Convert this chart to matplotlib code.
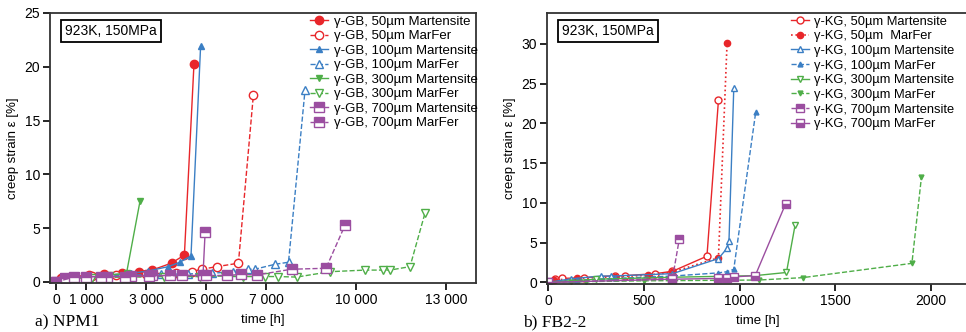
import numpy as np
import matplotlib
matplotlib.use('Agg')
import matplotlib.pyplot as plt

plt.rcParams['font.family'] = ['Liberation Sans', 'DejaVu Sans']
plt.rcParams['font.size'] = 9

RED = '#e8262a'
BLUE = '#3b7fc4'
GREEN = '#4fae48'
PURPLE = '#9b4ea0'

# ---- a) NPM1 (gamma-GB) ----
gb50_mart_t = [0, 150, 500, 1100, 1600, 2200, 2750, 3200, 3850, 4280, 4600]
gb50_mart_e = [0, 0.35, 0.5, 0.6, 0.7, 0.85, 0.95, 1.1, 1.75, 2.5, 20.3]
gb50_marf_t = [0, 200, 600, 1200, 2000, 3000, 4000, 4520, 4860, 5360, 6080, 6580]
gb50_marf_e = [0, 0.4, 0.5, 0.55, 0.65, 0.75, 0.85, 0.96, 1.18, 1.42, 1.74, 17.4]
gb100_mart_t = [0, 500, 1500, 2500, 3080, 3740, 4130, 4500, 4820]
gb100_mart_e = [0, 0.4, 0.6, 0.8, 1.02, 1.42, 1.83, 2.42, 21.9]
gb100_marf_t = [0, 500, 1500, 2500, 3500, 4400, 5190, 5910, 6410, 6630, 7300, 7750, 8300]
gb100_marf_e = [0, 0.4, 0.55, 0.65, 0.7, 0.75, 0.8, 0.96, 1.18, 1.18, 1.64, 1.83, 17.8]
gb300_mart_t = [0, 300, 1000, 1800, 2350, 2800]
gb300_mart_e = [0, 0.3, 0.5, 0.65, 0.8, 7.5]
gb300_marf_t = [0, 400, 1200, 2400, 3600, 4800, 5630, 6230, 6970, 7410, 8020, 9130,
                10300, 10910, 11130, 11800, 12300]
gb300_marf_e = [0, 0.3, 0.4, 0.45, 0.5, 0.5, 0.55, 0.5, 0.5, 0.5, 0.45, 0.95,
                1.1, 1.1, 1.1, 1.42, 6.4]
gb700_mart_t = [0, 300, 1000, 1700, 2500, 3200, 3800, 4900, 4970]
gb700_mart_e = [0, 0.4, 0.5, 0.5, 0.55, 0.6, 0.6, 0.6, 4.6]
gb700_marf_t = [0, 600, 1500, 2300, 3100, 4200, 5000, 5700, 6150, 6700, 7850, 9000, 9630]
gb700_marf_e = [0, 0.45, 0.5, 0.5, 0.55, 0.6, 0.6, 0.6, 0.7, 0.65, 1.18, 1.27, 5.25]
xticks_a = [0, 1000, 3000, 5000, 7000, 10000, 13000]
xticklabels_a = ['0', '1 000', '3 000', '5 000', '7 000', '10 000', '13 000']

# ---- b) FB2-2 (gamma-KG) ----
kg50_mart_t = [0, 35, 75, 190, 350, 400, 560, 650, 830, 890]
kg50_mart_e = [0, 0.4, 0.5, 0.6, 0.85, 0.85, 1.1, 1.4, 3.3, 22.9]
kg50_marf_t = [0, 30, 150, 350, 520, 650, 890, 935]
kg50_marf_e = [0, 0.3, 0.5, 0.7, 0.9, 1.3, 3.1, 30.1]
kg100_mart_t = [0, 120, 275, 330, 650, 890, 935, 945, 970]
kg100_mart_e = [0, 0.45, 0.8, 0.8, 1.1, 3.0, 4.3, 5.2, 24.4]
kg100_marf_t = [0, 150, 350, 650, 890, 935, 970, 1085]
kg100_marf_e = [0, 0.3, 0.5, 0.8, 1.2, 1.35, 1.65, 21.5]
kg300_mart_t = [0, 250, 650, 1080, 1245, 1290]
kg300_mart_e = [0, 0.4, 0.65, 0.85, 1.25, 7.2]
kg300_marf_t = [0, 120, 200, 500, 1100, 1330, 1900, 1950]
kg300_marf_e = [0, 0.05, 0.1, 0.2, 0.3, 0.6, 2.4, 13.3]
kg700_mart_t = [0, 650, 686]
kg700_mart_e = [0, 0.5, 5.5]
kg700_marf_t = [0, 650, 890, 935, 970, 1082, 1241]
kg700_marf_e = [0, 0.4, 0.5, 0.55, 0.7, 0.85, 9.9]


def sq(color, fs='top'):
    return dict(marker='s', fillstyle=fs, markerfacecolor=color,
                markerfacecoloralt='white', markeredgecolor=color)


fig = plt.figure(figsize=(9.66, 3.32), dpi=100)
ax1 = fig.add_axes([50/966, 49/332, 426/966, 270/332])
ax2 = fig.add_axes([547/966, 48/332, 440/966, 271/332])

# left panel
ax1.plot(gb50_mart_t, gb50_mart_e, '-', color=RED, marker='o', ms=6, lw=1, label='γ-GB, 50µm Martensite')
ax1.plot(gb50_marf_t, gb50_marf_e, '--', color=RED, marker='o', ms=6, mfc='white', lw=1, label='γ-GB, 50µm MarFer')
ax1.plot(gb100_mart_t, gb100_mart_e, '-', color=BLUE, marker='^', ms=5, lw=1, label='γ-GB, 100µm Martensite')
ax1.plot(gb100_marf_t, gb100_marf_e, '--', color=BLUE, marker='^', ms=6, mfc='white', lw=1, label='γ-GB, 100µm MarFer')
ax1.plot(gb300_mart_t, gb300_mart_e, '-', color=GREEN, marker='v', ms=5, lw=1, label='γ-GB, 300µm Martensite')
ax1.plot(gb300_marf_t, gb300_marf_e, '--', color=GREEN, marker='v', ms=6, mfc='white', lw=1, label='γ-GB, 300µm MarFer')
ax1.plot(gb700_mart_t, gb700_mart_e, '-', color=PURPLE, ms=7, lw=1, label='γ-GB, 700µm Martensite', **sq(PURPLE))
ax1.plot(gb700_marf_t, gb700_marf_e, '--', color=PURPLE, ms=7, lw=1, label='γ-GB, 700µm MarFer', **sq(PURPLE))
ax1.set_xlim(-200, 14000)
ax1.set_ylim(-0.1, 25)
ax1.set_xticks(xticks_a)
ax1.set_xticklabels(xticklabels_a)
ax1.set_yticks([0, 5, 10, 15, 20, 25])

# right panel
ax2.plot(kg50_mart_t, kg50_mart_e, '-', color=RED, marker='o', ms=5, mfc='white', lw=1, label='γ-KG, 50µm Martensite')
ax2.plot(kg50_marf_t, kg50_marf_e, ':', color=RED, marker='o', ms=4.5, lw=1.2, label='γ-KG, 50µm  MarFer')
ax2.plot(kg100_mart_t, kg100_mart_e, '-', color=BLUE, marker='^', ms=5, mfc='white', lw=1, label='γ-KG, 100µm Martensite')
ax2.plot(kg100_marf_t, kg100_marf_e, '--', color=BLUE, marker='^', ms=3.5, lw=1, label='γ-KG, 100µm MarFer')
ax2.plot(kg300_mart_t, kg300_mart_e, '-', color=GREEN, marker='v', ms=5, mfc='white', lw=1, label='γ-KG, 300µm Martensite')
ax2.plot(kg300_marf_t, kg300_marf_e, '--', color=GREEN, marker='v', ms=3.5, lw=1, label='γ-KG, 300µm MarFer')
ax2.plot(kg700_mart_t, kg700_mart_e, '--', color=PURPLE, ms=6, lw=1, label='γ-KG, 700µm Martensite', **sq(PURPLE))
ax2.plot(kg700_marf_t, kg700_marf_e, '-', color=PURPLE, ms=6, lw=1, label='γ-KG, 700µm MarFer', **sq(PURPLE, 'bottom'))
ax2.set_xlim(-5, 2292)
ax2.set_ylim(-0.2, 33.9)
ax2.set_xticks([0, 500, 1000, 1500, 2000])
ax2.set_yticks([0, 5, 10, 15, 20, 25, 30])

for ax, xl in ((ax1, 0.5), (ax2, 0.48)):
    for s in ax.spines.values():
        s.set_linewidth(1.3)
        s.set_color('#333333')
    ax.tick_params(direction='out', length=5, width=1.2, labelsize=10, pad=2)
    ax.set_xlabel('time [h]', fontsize=9.5)
    ax.xaxis.set_label_coords(xl, -0.115)
    ax.set_ylabel('creep strain ε [%]', fontsize=9.5, labelpad=4)
    ax.text(0.035, 0.96, '923K, 150MPa', transform=ax.transAxes, fontsize=10,
            va='top', ha='left',
            bbox=dict(boxstyle='square,pad=0.3', fc='white', ec='black', lw=1.3))

ax1.legend(loc='upper left', bbox_to_anchor=(0.61, 0.99), frameon=False, fontsize=9.5,
           borderpad=0, borderaxespad=0, labelspacing=0.17, handlelength=1.4,
           handletextpad=0.4)
ax2.legend(loc='upper left', bbox_to_anchor=(0.555, 0.99), frameon=False, fontsize=9.3,
           borderpad=0, borderaxespad=0, labelspacing=0.2, handlelength=1.4,
           handletextpad=0.4)

fig.text(35/966, 1 - 326/332, 'a) NPM1', family='Liberation Serif', fontsize=12.5)
fig.text(523/966, 1 - 326/332, 'b) FB2-2', family='Liberation Serif', fontsize=12.5)

fig.savefig('out.png', dpi=100)
